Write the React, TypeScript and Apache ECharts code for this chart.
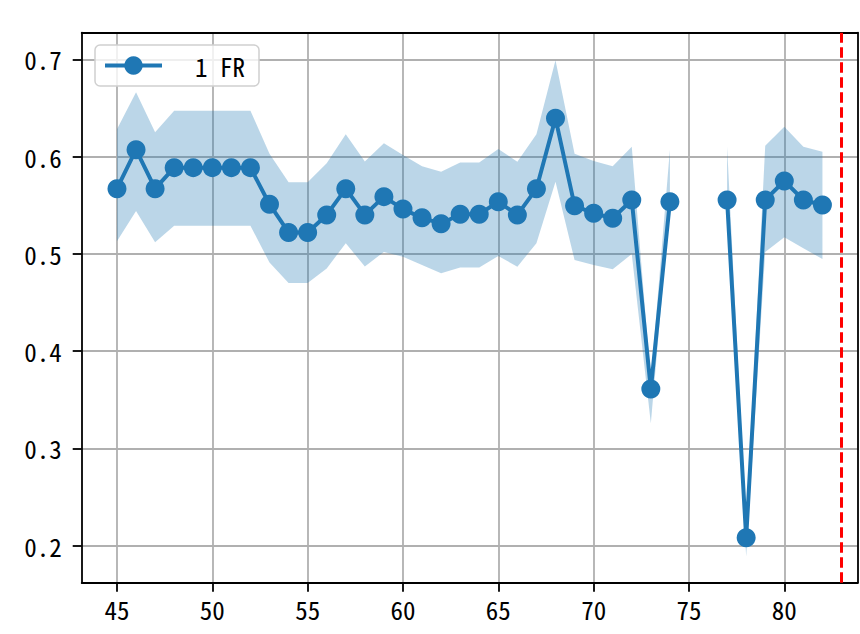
import React, { useEffect, useRef } from "react";
import * as echarts from "echarts";

const xValues = [45, 46, 47, 48, 49, 50, 51, 52, 53, 54, 55, 56, 57, 58, 59, 60, 61, 62, 63, 64, 65, 66, 67, 68, 69, 70, 71, 72, 73, 74, 75, 76, 77, 78, 79, 80, 81, 82];
const meanValues: (number | null)[] = [
  0.567, 0.607, 0.567, 0.5886, 0.5886, 0.5886, 0.5886, 0.5886, 0.551, 0.522,
  0.522, 0.540, 0.567, 0.540, 0.5588, 0.546, 0.537, 0.531, 0.5407, 0.5407,
  0.5536, 0.540, 0.567, 0.6393, 0.5495, 0.5417, 0.5366, 0.5554, 0.361, 0.5536,
  null, null, 0.5554, 0.2082, 0.5554, 0.5749, 0.5554, 0.5502,
];
const upperValues: (number | null)[] = [
  0.628, 0.666, 0.625, 0.647, 0.647, 0.647, 0.647, 0.647, 0.603, 0.5736,
  0.5736, 0.593, 0.623, 0.595, 0.6136, 0.6016, 0.590, 0.5845, 0.594, 0.594,
  0.6078, 0.5947, 0.623, 0.699, 0.603, 0.5955, 0.590, 0.610, 0.37, 0.607,
  null, null, 0.610, 0.222, 0.611, 0.6307, 0.610, 0.605,
];
const lowerValues: (number | null)[] = [
  0.513, 0.544, 0.512, 0.529, 0.529, 0.529, 0.529, 0.529, 0.491, 0.470,
  0.470, 0.485, 0.511, 0.487, 0.502, 0.497, 0.4886, 0.480, 0.486, 0.486,
  0.4978, 0.4868, 0.511, 0.574, 0.4937, 0.4886, 0.4841, 0.4998, 0.326, 0.55,
  null, null, 0.55, 0.189, 0.502, 0.517, 0.5057, 0.4947,
];
const xTicks = [45, 50, 55, 60, 65, 70, 75, 80];
const yTicks = [0.2, 0.3, 0.4, 0.5, 0.6, 0.7];
const seriesName = "1 FR";
const thresholdX = 83;

const FONT = "'Noto Sans Mono CJK JP', 'Noto Sans CJK JP', 'DejaVu Sans Mono', monospace";
const BLUE = "#1f77b4";

export default function App() {
  const ref = useRef<HTMLDivElement>(null);
  useEffect(() => {
    const chart = echarts.init(ref.current!, null, { renderer: "svg" });

    const runs: number[][] = [];
    let cur: number[] = [];
    xValues.forEach((_x, i) => {
      if (upperValues[i] == null || lowerValues[i] == null) {
        if (cur.length) runs.push(cur);
        cur = [];
      } else cur.push(i);
    });
    if (cur.length) runs.push(cur);

    const xMin = 43.15, xMax = 83.85, yMin = 0.162, yMax = 0.7273;

    const axisLineStyle = { color: "#000", width: 1.8 };

    chart.setOption({
      animation: false,
      grid: { left: 81.7, right: 2.3, top: 32.7, bottom: 51.3, containLabel: false },
      legend: {
        left: 95,
        top: 45,
        orient: "vertical",
        padding: [8, 14, 8, 8],
        itemWidth: 57,
        itemHeight: 23,
        backgroundColor: "rgba(255,255,255,0.8)",
        borderColor: "#d0d0d0",
        borderWidth: 1.5,
        borderRadius: 5,
        data: [seriesName],
        lineStyle: { width: 4 },
        textStyle: { fontFamily: FONT, fontSize: 25, color: "#000", padding: [0, 0, 0, 28] },
      },
      xAxis: [
        {
          type: "value",
          min: xMin,
          max: xMax,
          axisLine: { show: true, lineStyle: axisLineStyle, onZero: false },
          axisTick: { show: true, length: 9, lineStyle: { color: "#000", width: 1.8 }, customValues: xTicks },
          axisLabel: {
            customValues: xTicks,
            fontFamily: FONT,
            fontSize: 25,
            color: "#000",
            margin: 14,
            formatter: (v: number) => String(Math.round(v)),
          },
          splitLine: { show: true, lineStyle: { color: "#b0b0b0", width: 1.8 } },
        },
        {
          type: "value",
          position: "top",
          min: xMin,
          max: xMax,
          axisLine: { show: true, lineStyle: axisLineStyle, onZero: false },
          axisTick: { show: false },
          axisLabel: { show: false },
          splitLine: { show: false },
        },
      ],
      yAxis: [
        {
          type: "value",
          min: yMin,
          max: yMax,
          axisLine: { show: true, lineStyle: axisLineStyle, onZero: false },
          axisTick: { show: true, length: 9, lineStyle: { color: "#000", width: 1.8 }, customValues: yTicks },
          axisLabel: {
            customValues: yTicks,
            fontFamily: FONT,
            fontSize: 25,
            color: "#000",
            margin: 20,
            formatter: (v: number) => v.toFixed(1),
          },
          splitLine: { show: true, lineStyle: { color: "#b0b0b0", width: 1.8 } },
        },
        {
          type: "value",
          position: "right",
          min: yMin,
          max: yMax,
          axisLine: { show: true, lineStyle: axisLineStyle, onZero: false },
          axisTick: { show: false },
          axisLabel: { show: false },
          splitLine: { show: false },
        },
      ],
      series: [
        {
          type: "custom",
          name: "band",
          xAxisIndex: 0,
          yAxisIndex: 0,
          silent: true,
          z: 1,
          data: runs.map((r) => [xValues[r[0]], meanValues[r[0]]]),
          renderItem: (params: any, api: any) => {
            const run = runs[params.dataIndex];
            const pts: number[][] = [];
            run.forEach((i) => pts.push(api.coord([xValues[i], upperValues[i]])));
            for (let k = run.length - 1; k >= 0; k--) {
              const i = run[k];
              pts.push(api.coord([xValues[i], lowerValues[i]]));
            }
            return {
              type: "polygon",
              shape: { points: pts },
              style: { fill: "rgba(31,119,180,0.3)", stroke: "none" },
            };
          },
        },
        {
          type: "line",
          name: seriesName,
          xAxisIndex: 0,
          yAxisIndex: 0,
          z: 3,
          data: xValues.map((x, i) => [x, meanValues[i]]),
          connectNulls: false,
          symbol: "circle",
          symbolSize: 19,
          showAllSymbol: true,
          color: BLUE,
          itemStyle: { color: BLUE },
          lineStyle: { color: BLUE, width: 4 },
          markLine: {
            silent: true,
            symbol: ["none", "none"],
            label: { show: false },
            lineStyle: { color: "#ff0000", type: [10.5, 4.5], width: 3 },
            data: [{ xAxis: thresholdX }],
          },
        },
      ],
    });
    return () => chart.dispose();
  }, []);
  return (
    <div
      ref={ref}
      style={{ position: "fixed", left: 0, top: 0, width: 860, height: 634, background: "#fff" }}
    />
  );
}
